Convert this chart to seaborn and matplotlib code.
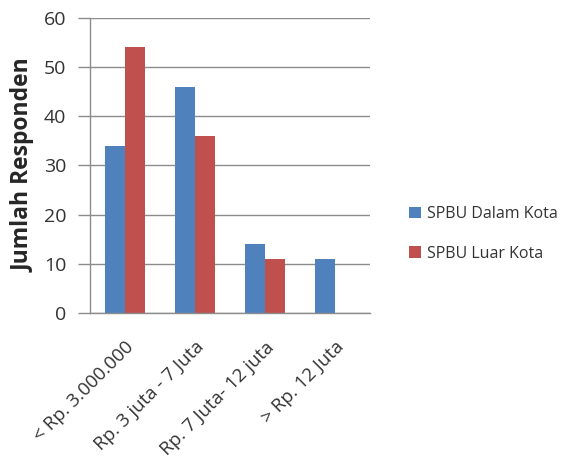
import matplotlib
matplotlib.use("Agg")
import matplotlib.pyplot as plt
import seaborn as sns
import pandas as pd

categories = ["< Rp. 3.000.000", "Rp. 3 juta - 7 Juta", "Rp. 7 Juta- 12 juta", "> Rp. 12 Juta"]
dalam_kota = [34, 46, 14, 11]
luar_kota = [54, 36, 11, 0]
series_names = ["SPBU Dalam Kota", "SPBU Luar Kota"]
y_ticks = [0, 10, 20, 30, 40, 50, 60]

df = pd.DataFrame({
    "Kategori": categories * 2,
    "Jumlah": dalam_kota + luar_kota,
    "Lokasi": [series_names[0]] * len(categories) + [series_names[1]] * len(categories),
})

sns.set_style("white")
plt.rcParams["font.family"] = ["Open Sans", "DejaVu Sans"]

fig = plt.figure(figsize=(5.66, 4.57), dpi=100)
ax = fig.add_axes([0.159, 0.315, 0.495, 0.646])

palette = {series_names[0]: "#4F81BD", series_names[1]: "#C0504D"}
sns.barplot(data=df, x="Kategori", y="Jumlah", hue="Lokasi", order=categories,
            hue_order=series_names, palette=palette, width=0.575, saturation=1,
            edgecolor="none", linewidth=0, ax=ax, legend=True)

ax.set_ylim(0, 60)
ax.set_xlim(-0.5, 3.5)
ax.set_yticks(y_ticks)
ax.yaxis.grid(True, color="#8C8C8C", linewidth=1)
ax.set_axisbelow(True)
for side in ["top", "right"]:
    ax.spines[side].set_visible(False)
for side in ["left", "bottom"]:
    ax.spines[side].set_color("#8C8C8C")
    ax.spines[side].set_linewidth(1)

ax.tick_params(axis="y", length=9, width=1, color="#8C8C8C", labelsize=14,
               labelcolor="#333333", pad=8, left=True)
ax.tick_params(axis="x", length=0, labelsize=13.5, labelcolor="#333333", pad=18)
plt.setp(ax.get_xticklabels(), rotation=45, ha="right", rotation_mode="anchor")

ax.set_xlabel("")
ax.set_ylabel("Jumlah Responden", fontsize=16.5, fontweight="bold", labelpad=6)

handles, labels = ax.get_legend_handles_labels()
ax.get_legend().remove()
fig.legend(handles, labels, loc="center left", bbox_to_anchor=(0.698, 0.488),
           frameon=False, fontsize=11.5, handlelength=0.7, handleheight=0.7,
           handletextpad=0.4, labelspacing=1.45, labelcolor="#333333")

fig.savefig("out.png", dpi=100)
